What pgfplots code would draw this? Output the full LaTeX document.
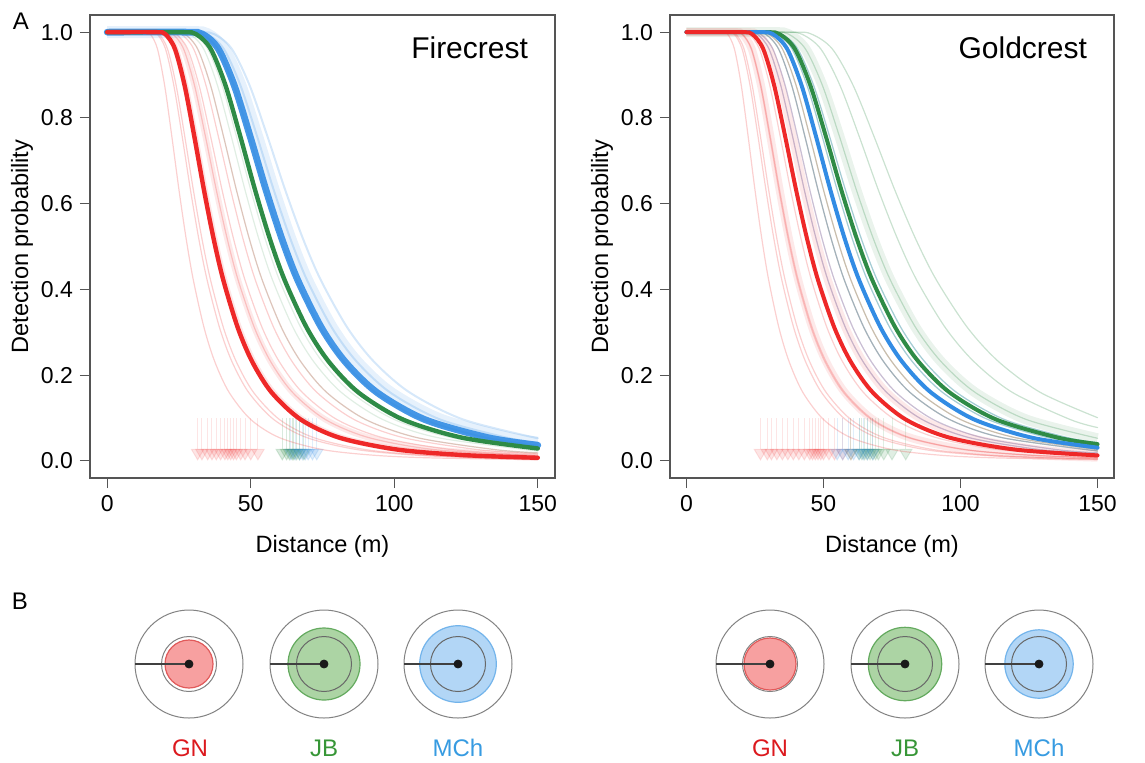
\documentclass[border=0pt]{standalone}
\usepackage{fontspec}
\setmainfont{Liberation Sans}
\usepackage{pgfplots}
\usepackage{pgfplotstable}
\pgfplotsset{compat=1.18}
\usetikzlibrary{arrows.meta}

\definecolor{cred}{RGB}{238,40,40}
\definecolor{cgreen}{RGB}{46,139,70}
\definecolor{cblue}{RGB}{50,140,228}
\definecolor{fred}{RGB}{247,160,160}
\definecolor{ered}{RGB}{225,90,90}
\definecolor{fgreen}{RGB}{172,212,164}
\definecolor{egreen}{RGB}{100,170,95}
\definecolor{fblue}{RGB}{178,214,246}
\definecolor{eblue}{RGB}{115,180,235}
\definecolor{lred}{RGB}{220,25,30}
\definecolor{lgreen}{RGB}{55,150,55}
\definecolor{lblue}{RGB}{55,155,225}
\definecolor{axisgray}{RGB}{85,85,85}
\definecolor{ringgray}{RGB}{130,130,130}

% hazard-rate detection curves (x = distance, y = detection probability)
\pgfplotstableread{
x y
0 1
12.5 1
15 0.9955
17.5 0.9610
20 0.8760
22.5 0.7573
25 0.6321
27.5 0.5181
30 0.4218
33.75 0.3103
37.5 0.2308
42.5 0.1594
50 0.0965
60 0.0541
75 0.0263
92.5 0.0133
112.5 0.0070
150 0.0027
}\tA
\pgfplotstableread{
x y
0 1
14.5 1
17.4 0.9955
20.3 0.9610
23.2 0.8760
26.1 0.7573
29 0.6321
31.9 0.5181
34.8 0.4218
39.15 0.3103
43.5 0.2308
49.3 0.1594
58 0.0965
69.6 0.0541
87 0.0263
107.3 0.0133
130.5 0.0070
150 0.0044
}\tB
\pgfplotstableread{
x y
0 1
15 1
18 0.9955
21 0.9610
24 0.8760
27 0.7573
30 0.6321
33 0.5181
36 0.4218
40.5 0.3103
45 0.2308
51 0.1594
60 0.0965
72 0.0541
90 0.0263
111 0.0133
135 0.0070
150 0.0049
}\tC
\pgfplotstableread{
x y
0 1
16.85 1
20.22 0.9955
23.59 0.9610
26.96 0.8760
30.33 0.7573
33.7 0.6321
37.07 0.5181
40.44 0.4218
45.5 0.3103
50.55 0.2308
57.29 0.1594
67.4 0.0965
80.88 0.0541
101.1 0.0263
124.69 0.0133
150 0.0072
}\tD
\pgfplotstableread{
x y
0 1
17 1
20.4 0.9955
23.8 0.9610
27.2 0.8760
30.6 0.7573
34 0.6321
37.4 0.5181
40.8 0.4218
45.9 0.3103
51 0.2308
57.8 0.1594
68 0.0965
81.6 0.0541
102 0.0263
125.8 0.0133
150 0.0074
}\tE
\pgfplotstableread{
x y
0 1
19 1
22.8 0.9955
26.6 0.9610
30.4 0.8760
34.2 0.7573
38 0.6321
41.8 0.5181
45.6 0.4218
51.3 0.3103
57 0.2308
64.6 0.1594
76 0.0965
91.2 0.0541
114 0.0263
150 0.0107
}\tF
\pgfplotstableread{
x y
0 1
20 1
24 0.9955
28 0.9610
32 0.8760
36 0.7573
40 0.6321
44 0.5181
48 0.4218
54 0.3103
60 0.2308
68 0.1594
80 0.0965
96 0.0541
120 0.0263
150 0.0127
}\tG
\pgfplotstableread{
x y
0 1
21.5 1
25.8 0.9955
30.1 0.9610
34.4 0.8760
38.7 0.7573
43 0.6321
47.3 0.5181
51.6 0.4218
58.05 0.3103
64.5 0.2308
73.1 0.1594
86 0.0965
103.2 0.0541
129 0.0263
150 0.0161
}\tH
\pgfplotstableread{
x y
0 1
22.5 1
27 0.9955
31.5 0.9610
36 0.8760
40.5 0.7573
45 0.6321
49.5 0.5181
54 0.4218
60.75 0.3103
67.5 0.2308
76.5 0.1594
90 0.0965
108 0.0541
135 0.0263
150 0.0186
}\tI
\pgfplotstableread{
x y
0 1
24 1
28.8 0.9955
33.6 0.9610
38.4 0.8760
43.2 0.7573
48 0.6321
52.8 0.5181
57.6 0.4218
64.8 0.3103
72 0.2308
81.6 0.1594
96 0.0965
115.2 0.0541
150 0.0230
}\tJ
\pgfplotstableread{
x y
0 1
25 1
30 0.9955
35 0.9610
40 0.8760
45 0.7573
50 0.6321
55 0.5181
60 0.4218
67.5 0.3103
75 0.2308
85 0.1594
100 0.0965
120 0.0541
150 0.0263
}\tK
\pgfplotstableread{
x y
0 1
25.75 1
30.9 0.9955
36.05 0.9610
41.2 0.8760
46.35 0.7573
51.5 0.6321
56.65 0.5181
61.8 0.4218
69.53 0.3103
77.25 0.2308
87.55 0.1594
103 0.0965
123.6 0.0541
150 0.0289
}\tL
\pgfplotstableread{
x y
0 1
26.25 1
31.5 0.9955
36.75 0.9610
42 0.8760
47.25 0.7573
52.5 0.6321
57.75 0.5181
63 0.4218
70.88 0.3103
78.75 0.2308
89.25 0.1594
105 0.0965
126 0.0541
150 0.0308
}\tT
\pgfplotstableread{
x y
0 1
27.5 1
33 0.9955
38.5 0.9610
44 0.8760
49.5 0.7573
55 0.6321
60.5 0.5181
66 0.4218
74.25 0.3103
82.5 0.2308
93.5 0.1594
110 0.0965
132 0.0541
150 0.0358
}\tM
\pgfplotstableread{
x y
0 1
27.65 1
33.18 0.9955
38.71 0.9610
44.24 0.8760
49.77 0.7573
55.3 0.6321
60.83 0.5181
66.36 0.4218
74.66 0.3103
82.95 0.2308
94.01 0.1594
110.6 0.0965
132.72 0.0541
150 0.0365
}\tN
\pgfplotstableread{
x y
0 1
28.25 1
33.9 0.9955
39.55 0.9610
45.2 0.8760
50.85 0.7573
56.5 0.6321
62.15 0.5181
67.8 0.4218
76.28 0.3103
84.75 0.2308
96.05 0.1594
113 0.0965
135.6 0.0541
150 0.0391
}\tO
\pgfplotstableread{
x y
0 1
29 1
34.8 0.9955
40.6 0.9610
46.4 0.8760
52.2 0.7573
58 0.6321
63.8 0.5181
69.6 0.4218
78.3 0.3103
87 0.2308
98.6 0.1594
116 0.0965
139.2 0.0541
150 0.0425
}\tP
\pgfplotstableread{
x y
0 1
31 1
37.2 0.9955
43.4 0.9610
49.6 0.8760
55.8 0.7573
62 0.6321
68.2 0.5181
74.4 0.4218
83.7 0.3103
93 0.2308
105.4 0.1594
124 0.0965
150 0.0527
}\tQ
\pgfplotstableread{
x y
0 1
35 1
42 0.9955
49 0.9610
56 0.8760
63 0.7573
70 0.6321
77 0.5181
84 0.4218
94.5 0.3103
105 0.2308
119 0.1594
140 0.0965
150 0.0777
}\tR
\pgfplotstableread{
x y
0 1
38 1
45.6 0.9955
53.2 0.9610
60.8 0.8760
68.4 0.7573
76 0.6321
83.6 0.5181
91.2 0.4218
102.6 0.3103
114 0.2308
129.2 0.1594
150 0.1007
}\tS

% rug arrows (effective detection radius samples)
\pgfplotstableread{
x y
31.5 0.1
33 0.1
35 0.1
36.5 0.1
38 0.1
39.5 0.1
41 0.1
42 0.1
43 0.1
44 0.1
45 0.1
46.5 0.1
48 0.1
50 0.1
52.5 0.1
}\rugFr
\pgfplotstableread{
x y
61 0.1
62.5 0.1
63.5 0.1
64.5 0.1
65 0.1
66 0.1
67 0.1
68.5 0.1
}\rugFg
\pgfplotstableread{
x y
64 0.1
65.5 0.1
67 0.1
68 0.1
69 0.1
70 0.1
71.5 0.1
73 0.1
}\rugFb
\pgfplotstableread{
x y
27 0.1
29.5 0.1
31 0.1
33 0.1
35 0.1
37 0.1
39 0.1
41 0.1
43 0.1
45 0.1
46 0.1
47 0.1
48 0.1
49 0.1
50 0.1
52 0.1
54 0.1
57 0.1
60 0.1
}\rugGr
\pgfplotstableread{
x y
60 0.1
63 0.1
64 0.1
65 0.1
66 0.1
67 0.1
68 0.1
69 0.1
70 0.1
72 0.1
75 0.1
80 0.1
}\rugGg
\pgfplotstableread{
x y
55 0.1
57 0.1
59 0.1
61 0.1
63 0.1
64.5 0.1
66 0.1
68 0.1
}\rugGb

\pgfplotsset{
  rstyle/.style={
    scale only axis, height=231.5pt,
    xmin=-6, xmax=156, ymin=-0.04, ymax=1.04,
    axis line style={axisgray, line width=0.7pt},
    every tick/.style={axisgray, line width=0.6pt},
    tick align=outside, tick pos=left, major tick length=5pt,
    xtick={0,50,100,150}, ytick={0,0.2,0.4,0.6,0.8,1.0},
    yticklabel style={/pgf/number format/.cd, fixed, fixed zerofill, precision=1},
    /pgf/number format/assume math mode=true,
    ticklabel style={font=\fontsize{11.5}{12}\selectfont},
    label style={font=\fontsize{11.8}{13}\selectfont},
    xlabel={Distance (m)}, ylabel={Detection probability},
    clip=true,
  },
  thin/.style={smooth, line width=0.6pt, line cap=round},
  halo/.style={smooth, line cap=butt},
  thick/.style={smooth, line width=2.2pt, line cap=round},
  rug/.style={line width=0.5pt, quiver={u=0, v=-0.1}, -{Triangle[width=7pt,length=6pt]}},
}

\begin{document}
\begin{tikzpicture}
\path[use as bounding box] (0,0) rectangle (572.5pt,-381pt);

% ---------------- Firecrest ----------------
\begin{axis}[rstyle, at={(45pt,-239pt)}, anchor=south west, width=232.5pt,
  xlabel style={at={(axis description cs:0.5,-0.147)}, anchor=center},
  ylabel style={at={(axis description cs:-0.146,0.5)}, anchor=center}]
\addplot[rug, cred, opacity=0.12] table {\rugFr};
\addplot[rug, cgreen, opacity=0.18] table {\rugFg};
\addplot[rug, cblue, opacity=0.15] table {\rugFb};
\addplot[halo, cred, opacity=0.12, line width=3pt] table {\tE};
\addplot[halo, cred, opacity=0.1, line width=3pt] table {\tF};
\addplot[thin, cred, opacity=0.22] table {\tA};
\addplot[thin, cred, opacity=0.22] table {\tB};
\addplot[thin, cred, opacity=0.22] table {\tC};
\addplot[thin, cred, opacity=0.22] table {\tE};
\addplot[thin, cred, opacity=0.22] table {\tF};
\addplot[thin, cred, opacity=0.22] table {\tG};
\addplot[thin, cred, opacity=0.22] table {\tH};
\addplot[thin, cred, opacity=0.22] table {\tI};
\addplot[thin, cgreen, opacity=0.15] table {\tI};
\addplot[thin, cgreen, opacity=0.15] table {\tJ};
\addplot[thin, cgreen, opacity=0.15] table {\tK};
\addplot[thin, cgreen, opacity=0.15] table {\tM};
\addplot[halo, cblue, opacity=0.12, line width=6pt] table {\tP};
\addplot[thin, cblue, opacity=0.2, line width=1pt] table {\tM};
\addplot[thin, cblue, opacity=0.2, line width=1pt] table {\tP};
\addplot[thin, cblue, opacity=0.2, line width=1pt] table {\tQ};
\addplot[thick, cblue, line width=3.4pt, opacity=0.9] table {\tN};
\addplot[thick, cgreen] table {\tL};
\addplot[thick, cred] table {\tD};
\node[anchor=east, font=\fontsize{15}{16}\selectfont] at (rel axis cs:0.957,0.929) {Firecrest};
\end{axis}

% ---------------- Goldcrest ----------------
\begin{axis}[rstyle, at={(335pt,-239pt)}, anchor=south west, width=222pt,
  xlabel style={at={(axis description cs:0.5,-0.147)}, anchor=center},
  ylabel style={at={(axis description cs:-0.153,0.5)}, anchor=center}]
\addplot[rug, cred, opacity=0.12] table {\rugGr};
\addplot[rug, cgreen, opacity=0.15] table {\rugGg};
\addplot[rug, cblue, opacity=0.15] table {\rugGb};
\addplot[halo, cred, opacity=0.1, line width=4pt] table {\tE};
\addplot[halo, cred, opacity=0.1, line width=4pt] table {\tH};
\addplot[halo, cgreen, opacity=0.1, line width=5pt] table {\tQ};
\addplot[thin, cred, opacity=0.22] table {\tA};
\addplot[thin, cred, opacity=0.22] table {\tB};
\addplot[thin, cred, opacity=0.22] table {\tC};
\addplot[thin, cred, opacity=0.22] table {\tD};
\addplot[thin, cred, opacity=0.22] table {\tE};
\addplot[thin, cred, opacity=0.22] table {\tF};
\addplot[thin, cred, opacity=0.22] table {\tH};
\addplot[thin, cred, opacity=0.22] table {\tI};
\addplot[thin, cred, opacity=0.22] table {\tJ};
\addplot[thin, cred, opacity=0.22] table {\tK};
\addplot[thin, cgreen, opacity=0.25] table {\tJ};
\addplot[thin, cgreen, opacity=0.25] table {\tK};
\addplot[thin, cgreen, opacity=0.25] table {\tM};
\addplot[thin, cgreen, opacity=0.25] table {\tP};
\addplot[thin, cgreen, opacity=0.25] table {\tQ};
\addplot[thin, cgreen, opacity=0.25] table {\tR};
\addplot[thin, cgreen, opacity=0.25] table {\tS};
\addplot[thin, cblue, opacity=0.25] table {\tH};
\addplot[thin, cblue, opacity=0.25] table {\tI};
\addplot[thin, cblue, opacity=0.25] table {\tJ};
\addplot[thin, cblue, opacity=0.25] table {\tM};
\addplot[thin, cblue, opacity=0.25] table {\tP};
\addplot[thick, cgreen, line width=2pt] table {\tO};
\addplot[thick, cblue, line width=2pt] table {\tT};
\addplot[thick, cred, line width=2pt] table {\tG};
\node[anchor=east, font=\fontsize{15}{16}\selectfont] at (rel axis cs:0.955,0.929) {Goldcrest};
\end{axis}

% ---------------- Panel B ----------------
\begin{axis}[at={(0pt,-381pt)}, anchor=south west, scale only axis,
  width=572.5pt, height=91pt, xmin=0, xmax=1145, ymin=0, ymax=182,
  hide axis, clip=false, clip mode=individual]
\addplot[only marks, mark=*, mark size=27pt,
  mark options={draw=ringgray, fill=white, line width=0.5pt}]
  coordinates {(189,98) (324,98) (458,98) (770,98) (905,98) (1039,98)};
\addplot[only marks, mark=*, mark size=13.75pt,
  mark options={draw=ringgray, fill=white, line width=0.5pt}]
  coordinates {(189,98) (770,98)};
\addplot[only marks, mark=*, mark size=12pt,
  mark options={draw=ered, fill=fred, line width=0.6pt}] coordinates {(189,98)};
\addplot[only marks, mark=*, mark size=13pt,
  mark options={draw=ered, fill=fred, line width=0.6pt}] coordinates {(770,98)};
\addplot[only marks, mark=*, mark size=18pt,
  mark options={draw=egreen, fill=fgreen, line width=0.6pt}] coordinates {(324,98)};
\addplot[only marks, mark=*, mark size=18.35pt,
  mark options={draw=egreen, fill=fgreen, line width=0.6pt}] coordinates {(905,98)};
\addplot[only marks, mark=*, mark size=19.15pt,
  mark options={draw=eblue, fill=fblue, line width=0.6pt}] coordinates {(458,98)};
\addplot[only marks, mark=*, mark size=17.1pt,
  mark options={draw=eblue, fill=fblue, line width=0.6pt}] coordinates {(1039,98)};
\addplot[only marks, mark=o, mark size=13.75pt,
  mark options={draw=ringgray!80!black, line width=0.5pt}]
  coordinates {(324,98) (458,98) (905,98) (1039,98)};
\addplot[black!75, line width=0.7pt] coordinates {(135,98) (189,98)};
\addplot[black!75, line width=0.7pt] coordinates {(270,98) (324,98)};
\addplot[black!75, line width=0.7pt] coordinates {(404,98) (458,98)};
\addplot[black!75, line width=0.7pt] coordinates {(716,98) (770,98)};
\addplot[black!75, line width=0.7pt] coordinates {(851,98) (905,98)};
\addplot[black!75, line width=0.7pt] coordinates {(985,98) (1039,98)};
\addplot[only marks, mark=*, mark size=2pt, black!90]
  coordinates {(189,98) (324,98) (458,98) (770,98) (905,98) (1039,98)};
\node[text=lred, font=\fontsize{12}{13}\selectfont] at (axis cs:190,14) {GN};
\node[text=lgreen, font=\fontsize{12}{13}\selectfont] at (axis cs:324,14) {JB};
\node[text=lblue, font=\fontsize{12}{13}\selectfont] at (axis cs:458,14) {MCh};
\node[text=lred, font=\fontsize{12}{13}\selectfont] at (axis cs:770,14) {GN};
\node[text=lgreen, font=\fontsize{12}{13}\selectfont] at (axis cs:905,14) {JB};
\node[text=lblue, font=\fontsize{12}{13}\selectfont] at (axis cs:1039,14) {MCh};
\end{axis}

\node[font=\fontsize{12}{13}\selectfont] at (10.5pt,-10.5pt) {A};
\node[font=\fontsize{12}{13}\selectfont] at (10pt,-300.5pt) {B};
\end{tikzpicture}
\end{document}
